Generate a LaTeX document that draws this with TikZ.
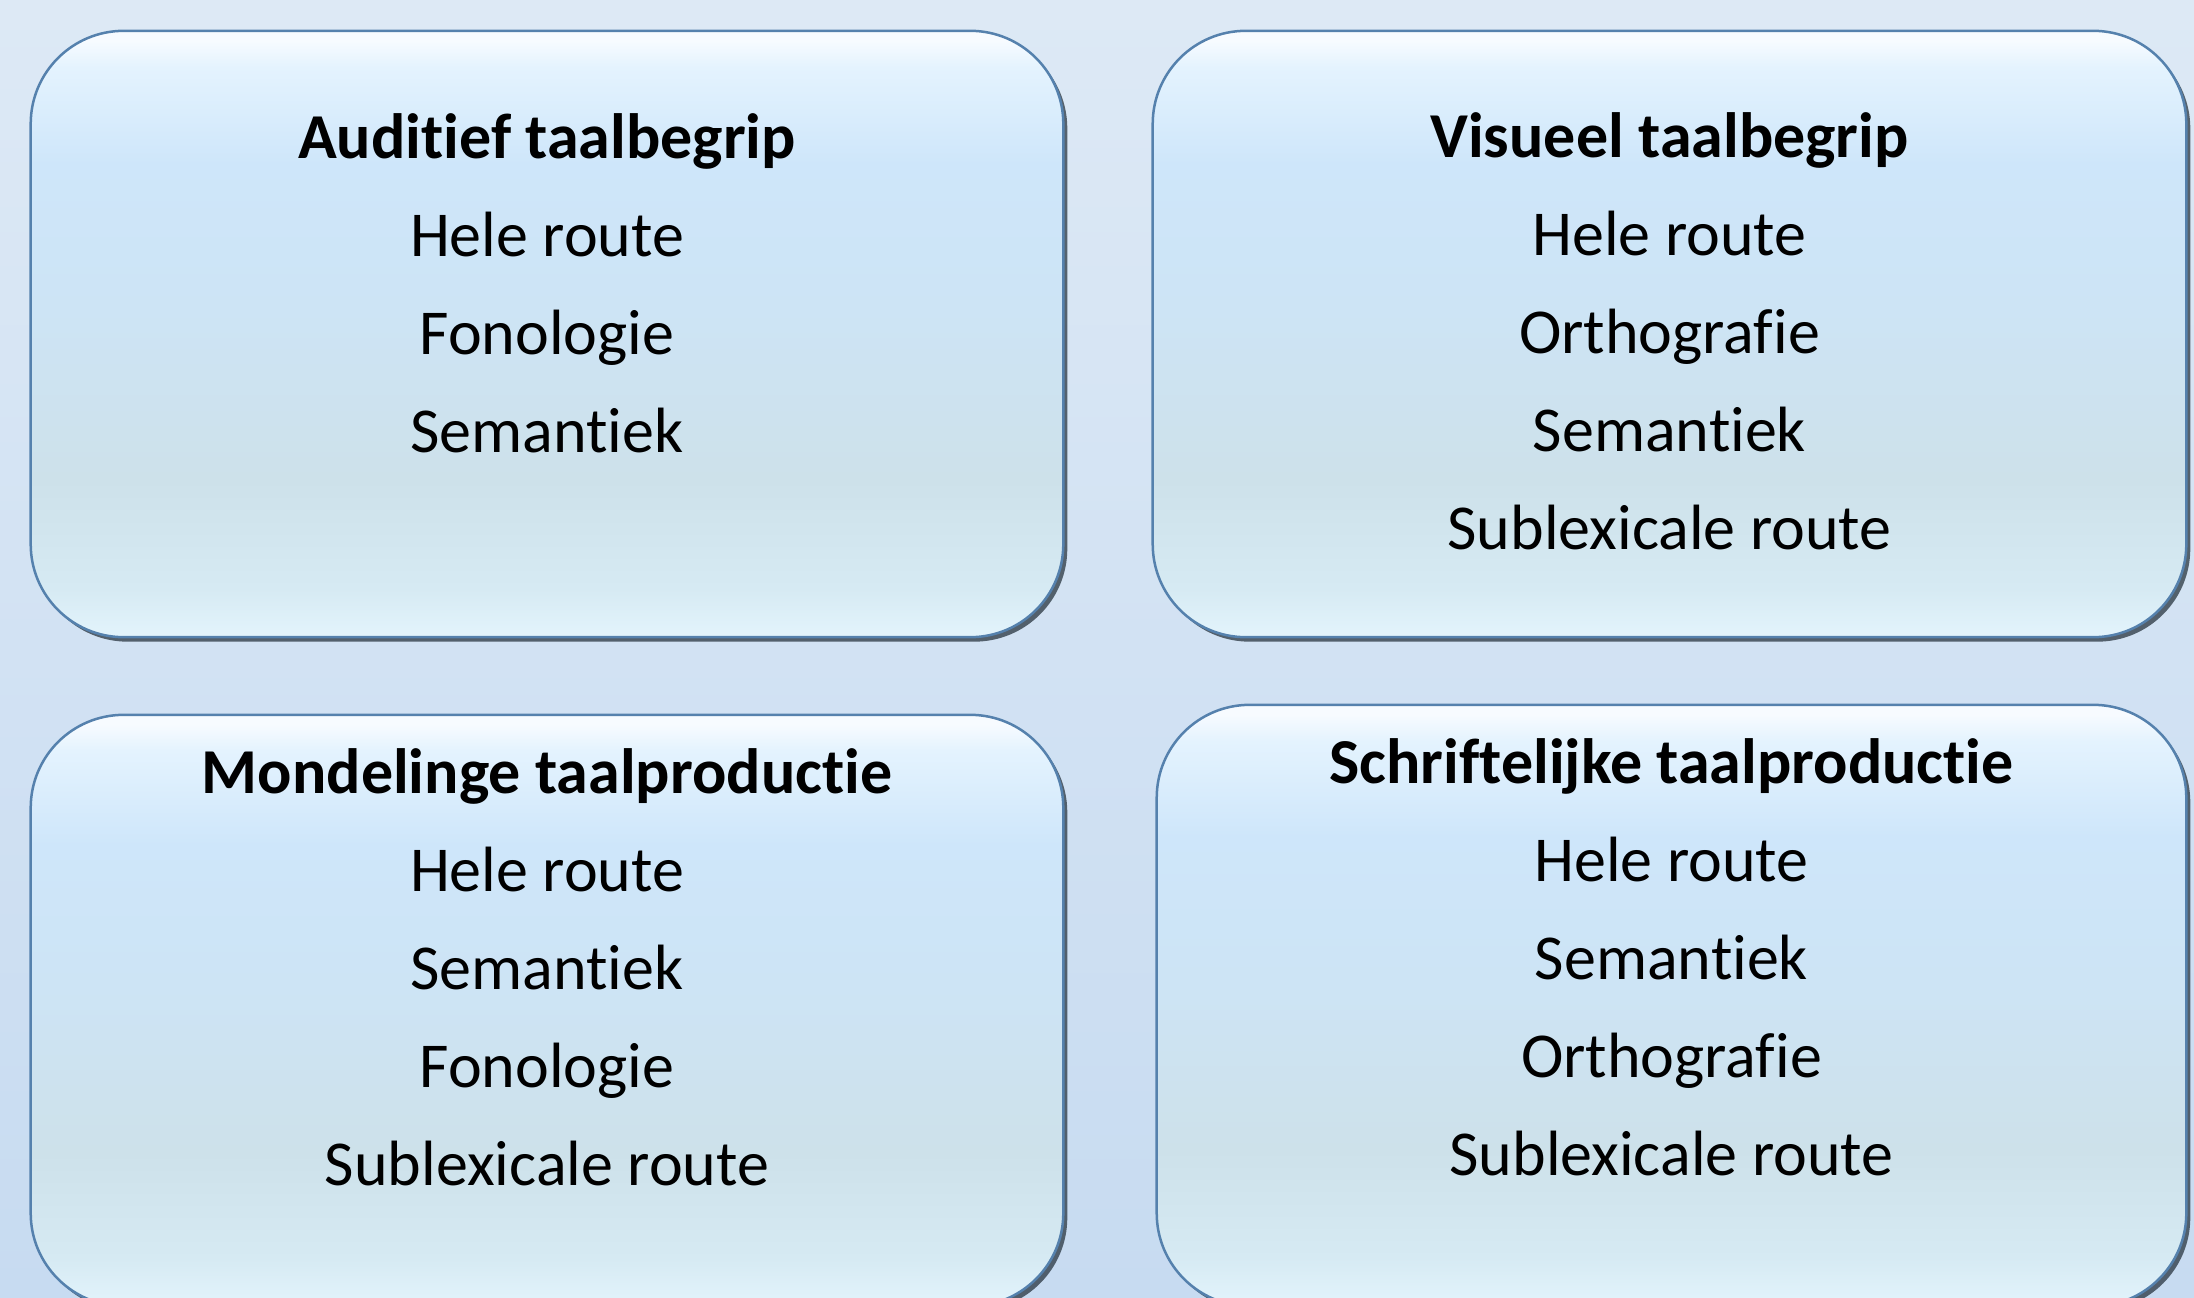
\documentclass[tikz,border=0pt]{standalone}
\usepackage{fontspec}
\setmainfont[Ligatures=NoCommon]{Carlito}
\usetikzlibrary{positioning,shadows}

\definecolor{bgtop}{HTML}{DDE9F5}
\definecolor{bgbot}{HTML}{C7DBF1}
\definecolor{panelline}{HTML}{5581AD}
\definecolor{panelshadow}{HTML}{1E2A34}
\definecolor{pbot}{HTML}{E3F4FC}
\definecolor{plow}{HTML}{D6EAF3}
\definecolor{pteal}{HTML}{CDE1EA}
\definecolor{pmid}{HTML}{CDE4F5}
\definecolor{pupper}{HTML}{CEE6FA}
\definecolor{ptop}{HTML}{E4F3FE}
\definecolor{phigh}{HTML}{F7FBFF}

\pgfdeclareverticalshading{panelshade}{100bp}{%
  color(0bp)=(pbot); color(25bp)=(pbot); color(29bp)=(plow);
  color(38bp)=(pteal); color(52bp)=(pmid); color(64bp)=(pupper);
  color(72bp)=(ptop); color(74.2bp)=(phigh); color(75bp)=(phigh);
  color(100bp)=(phigh)}

\begin{document}
\begin{tikzpicture}[
    %–––– GLOBAL STYLE TWEAKS ––––
    x=0.01cm, y=-0.01cm,                             % one unit = one pixel of the slide
    panel/.style = {rectangle, rounded corners=0.93cm,
                    draw=panelline, line width=0.025cm,
                    shade, shading=panelshade,
                    drop shadow={shadow xshift=0.04cm, shadow yshift=-0.045cm,
                                 fill=panelshadow, opacity=0.7}},
    paneltext/.style = {align=center, inner sep=0pt,
                        font=\fontsize{18.2}{27.9}\selectfont},
]
%–––– BACKGROUND ––––
\useasboundingbox (0,0) rectangle (2194,1297);
\clip (0,0) rectangle (2194,1297);
\fill[top color=bgtop, bottom color=bgbot] (0,0) rectangle (2194,1297);

%–––– PANELS ––––
\node (audbox) [panel, minimum width=10.32cm, minimum height=6.06cm] at (547,334)    {};
\node (visbox) [panel, minimum width=10.33cm, minimum height=6.06cm] at (1669.5,334) {};
\node (monbox) [panel, minimum width=10.32cm, minimum height=5.91cm] at (547,1010.5) {};
\node (schbox) [panel, minimum width=10.29cm, minimum height=6.01cm] at (1671.5,1005.5) {};

%–––– TEXTS ––––
\node (audtext) [paneltext, below=0.83cm of audbox.north]
      {\textbf{Auditief taalbegrip}\\Hele route\\Fonologie\\Semantiek};

\node (vistext) [paneltext, below=0.82cm of visbox.north]
      {\textbf{Visueel taalbegrip}\\Hele route\\Orthografie\\Semantiek\\Sublexicale route};

\node (montext) [paneltext, below=0.34cm of monbox.north]
      {\textbf{Mondelinge taalproductie}\\Hele route\\Semantiek\\Fonologie\\Sublexicale route};

\node (schtext) [paneltext, below=0.34cm of schbox.north]
      {\textbf{Schriftelijke taalproductie}\\Hele route\\Semantiek\\Orthografie\\Sublexicale route};
\end{tikzpicture}
\end{document}
